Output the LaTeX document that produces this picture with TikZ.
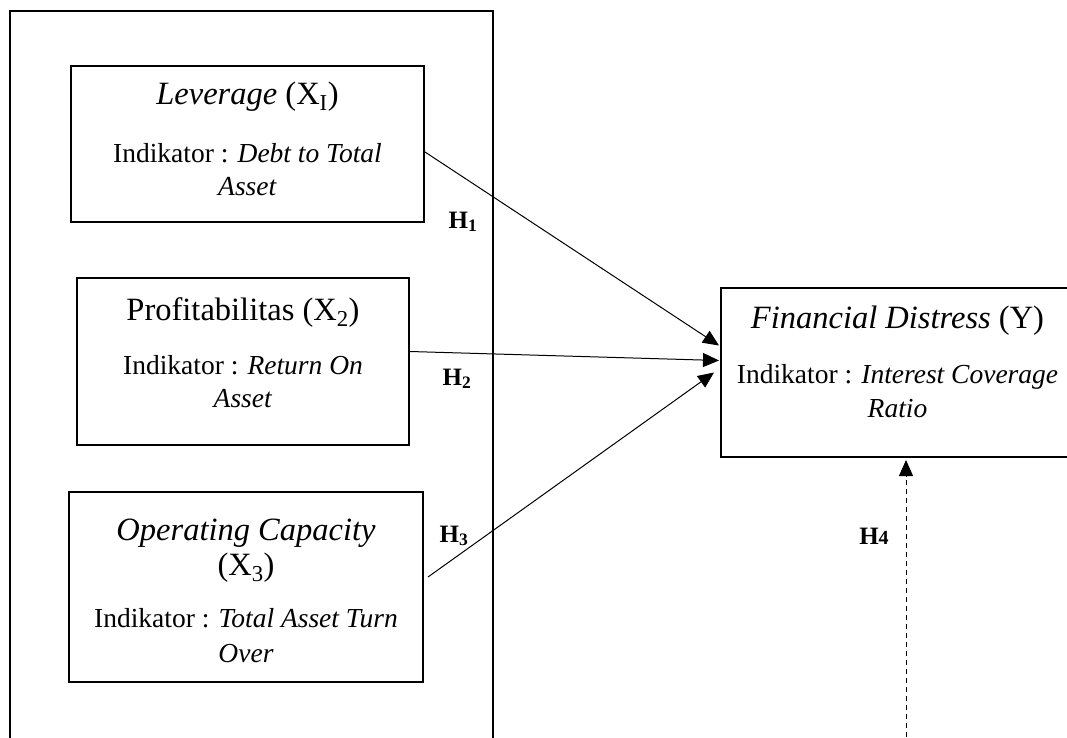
\documentclass[tikz,border=0pt]{standalone}
\usepackage{fontspec}
\setmainfont{Liberation Serif}
\usetikzlibrary{arrows.meta,calc}
\begin{document}
\begin{tikzpicture}[x=1pt,y=-1pt,
  varbox/.style={draw,line width=2pt,inner sep=0pt,rectangle},
  ttl/.style={anchor=base,inner sep=0pt,font=\fontsize{32.5}{36}\selectfont},
  bdy/.style={anchor=base,inner sep=0pt,font=\fontsize{27.5}{31}\selectfont},
  hyp/.style={anchor=base,inner sep=0pt,font=\fontsize{25}{28}\selectfont\bfseries},
  link/.style={line width=1pt,-{Triangle[length=16pt,width=14pt]}}]
\useasboundingbox (0,0) rectangle (1067,737);
\clip (0,0) rectangle (1067,737);
% outer frame (open at the bottom)
\draw[line width=2pt] (10,740) -- (10,11) -- (493,11) -- (493,740);
% boxes
\node[varbox,minimum width=353pt,minimum height=156pt] (b1) at (247.5,144) {};
\node[varbox,minimum width=332pt,minimum height=167pt] (b2) at (243,361.5) {};
\node[varbox,minimum width=354pt,minimum height=190pt] (b3) at (246,587) {};
\node[varbox,minimum width=353pt,minimum height=169pt] (by) at (897.5,372.5) {};
% texts box 1
\node[ttl] (t1a) at (247.5,104) {\textit{Leverage} (X\textsubscript{I})};
\node[bdy] (t1b) at (247.5,162) {Indikator : \textit{Debt to Total}};
\node[bdy] (t1c) at (247.5,195) {\textit{Asset}};
% texts box 2
\node[ttl] (t2a) at (243,320) {Profitabilitas (X\textsubscript{2})};
\node[bdy] (t2b) at (243,374) {Indikator : \textit{Return On}};
\node[bdy] (t2c) at (243,407) {\textit{Asset}};
% texts box 3
\node[ttl] (t3a) at (246,540) {\textit{Operating Capacity}};
\node[ttl] (t3b) at (246,575) {(X\textsubscript{3})};
\node[bdy] (t3c) at (246,627) {Indikator : \textit{Total Asset Turn}};
\node[bdy] (t3d) at (246,662) {\textit{Over}};
% texts box Y
\node[ttl] (tya) at (897.5,328) {\textit{Financial Distress} (Y)};
\node[bdy] (tyb) at (897.5,383) {Indikator : \textit{Interest Coverage}};
\node[bdy] (tyc) at (897.5,417) {\textit{Ratio}};
% hypothesis labels
\node[hyp] (h1) at (463,228) {H\textsubscript{1}};
\node[hyp] (h2) at (457,385) {H\textsubscript{2}};
\node[hyp] (h3) at (454,542) {H\textsubscript{3}};
\node[hyp] (h4) at (874,544) {H{\fontsize{20}{24}\selectfont 4}};
% connectors
\coordinate (h4start) at (906,737);
\draw[link] ($(b1.east)+(0,8)$) -- ($(by.west)+(-1,-27)$);
\draw[link] ($(b2.east)+(0,-10)$) -- ($(by.west)+(-1,-12)$);
\draw[link] ($(b3.east)+(4,-10)$) -- ($(by.west)+(-6,0)$);
\draw[link,dash pattern=on 5pt off 4pt] (h4start) -- ($(by.south)+(8.5,2)$);
\end{tikzpicture}
\end{document}
